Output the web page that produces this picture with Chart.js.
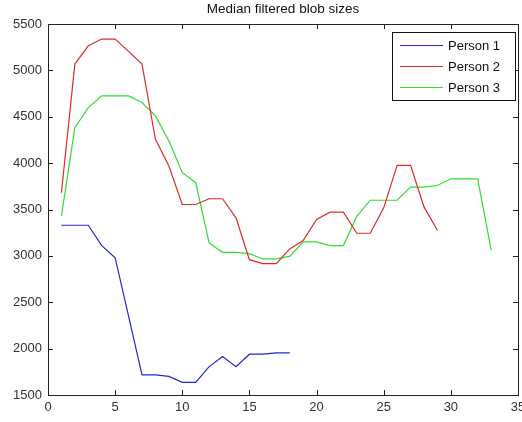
<!DOCTYPE html>
<html>
<head>
<meta charset="utf-8">
<script src="https://cdn.jsdelivr.net/npm/chart.js@4/dist/chart.umd.min.js"></script>
<style>
html,body{margin:0;padding:0;background:#fff;}
#wrap{width:522px;height:422px;position:relative;}
</style>
</head>
<body>
<div id="wrap"><canvas id="c" width="522" height="422"></canvas></div>
<script>
const chartTitle = "Median filtered blob sizes";
const seriesNames = ["Person 1", "Person 2", "Person 3"];
const person1X = [1,2,3,4,5,6,7,8,9,10,11,12,13,14,15,16,17,18];
const person1Y = [3330,3330,3330,3110,2980,2350,1716,1716,1700,1637,1637,1806,1914,1806,1940,1940,1954,1954];
const person2X = [1,2,3,4,5,6,7,8,9,10,11,12,13,14,15,16,17,18,19,20,21,22,23,24,25,26,27,28,29];
const person2Y = [3680,5068,5265,5338,5338,5205,5068,4257,3968,3554,3554,3616,3616,3410,2959,2916,2916,3075,3165,3392,3471,3471,3244,3244,3518,3976,3976,3528,3276];
const person3X = [1,2,3,4,5,6,7,8,9,10,11,12,13,14,15,16,17,18,19,20,21,22,23,24,25,26,27,28,29,30,31,32,33];
const person3Y = [3428,4383,4599,4725,4725,4725,4653,4509,4240,3897,3789,3140,3038,3038,3024,2967,2967,2995,3151,3151,3111,3111,3428,3600,3600,3600,3741,3741,3759,3831,3831,3831,3063];
const xTicks = [0,5,10,15,20,25,30,35];
const yTicks = [1500,2000,2500,3000,3500,4000,4500,5000,5500];
const colors = ["#2525d5", "#dd2b2b", "#2fdf2f"];

function pts(xs, ys){ return xs.map((x,i)=>({x:x, y:ys[i]})); }

const FONT = "'Liberation Sans', Arial, sans-serif";

const matlabPlugin = {
  id: 'matlab',
  afterDraw(chart){
    const ctx = chart.ctx;
    const a = chart.chartArea;
    const xs = chart.scales.x, ys = chart.scales.y;
    ctx.save();
    ctx.strokeStyle = '#222';
    ctx.lineWidth = 1;
    ctx.strokeRect(Math.round(a.left)+0.5, Math.round(a.top)+0.5, Math.round(a.right-a.left), Math.round(a.bottom-a.top));
    const tl = 5;
    ctx.beginPath();
    xTicks.forEach(v=>{
      const px = Math.round(xs.getPixelForValue(v))+0.5;
      ctx.moveTo(px, a.bottom); ctx.lineTo(px, a.bottom - tl);
      ctx.moveTo(px, a.top); ctx.lineTo(px, a.top + tl);
    });
    yTicks.forEach(v=>{
      const py = Math.round(ys.getPixelForValue(v))+0.5;
      ctx.moveTo(a.left, py); ctx.lineTo(a.left + tl, py);
      ctx.moveTo(a.right, py); ctx.lineTo(a.right - tl, py);
    });
    ctx.stroke();
    ctx.fillStyle = '#111';
    ctx.font = "13.5px " + FONT;
    ctx.textAlign = 'center';
    ctx.textBaseline = 'middle';
    ctx.fillText(chartTitle, (a.left + a.right)/2, 9);
    const lx = 392, ly = 32, lw = 123, lh = 68;
    ctx.fillStyle = '#fff';
    ctx.fillRect(lx, ly, lw, lh);
    ctx.strokeStyle = '#111';
    ctx.strokeRect(lx+0.5, ly+0.5, lw, lh);
    ctx.font = "13px " + FONT;
    ctx.textAlign = 'left';
    chart.data.datasets.forEach((ds, i)=>{
      const y = ly + 13 + i*21;
      ctx.strokeStyle = ds.borderColor;
      ctx.lineWidth = 1.2;
      ctx.beginPath();
      ctx.moveTo(400, y+0.5); ctx.lineTo(443, y+0.5);
      ctx.stroke();
      ctx.fillStyle = '#111';
      ctx.fillText(ds.label, 448, y+1);
    });
    ctx.restore();
  }
};

new Chart(document.getElementById('c'), {
  type: 'line',
  data: {
    datasets: [
      {label: seriesNames[0], data: pts(person1X, person1Y), borderColor: colors[0]},
      {label: seriesNames[1], data: pts(person2X, person2Y), borderColor: colors[1]},
      {label: seriesNames[2], data: pts(person3X, person3Y), borderColor: colors[2]}
    ].map(d=>Object.assign(d, {borderWidth: 1.2, pointRadius: 0, tension: 0, fill: false}))
  },
  options: {
    responsive: false,
    animation: false,
    layout: {padding: {top: 24, right: 4, left: 0, bottom: 0}},
    plugins: {legend: {display: false}, title: {display: false}, tooltip: {enabled: false}},
    scales: {
      x: {
        type: 'linear', min: 0, max: 35,
        grid: {display: false, drawTicks: false},
        border: {display: false},
        afterBuildTicks(s){ s.ticks = xTicks.map(v=>({value:v})); },
        ticks: {color: '#333', font: {family: FONT, size: 13}, padding: 5, maxRotation: 0, autoSkip: false, callback: v => String(v)},
        afterFit(s){ s.height = 27; s.paddingLeft = 0; s.paddingRight = 0; }
      },
      y: {
        type: 'linear', min: 1500, max: 5500,
        grid: {display: false, drawTicks: false},
        border: {display: false},
        afterBuildTicks(s){ s.ticks = yTicks.map(v=>({value:v})); },
        ticks: {color: '#333', font: {family: FONT, size: 13}, padding: 6, autoSkip: false, callback: v => String(v)},
        afterFit(s){ s.width = 48; s.paddingTop = 0; s.paddingBottom = 0; }
      }
    }
  },
  plugins: [matlabPlugin]
});
</script>
</body>
</html>
